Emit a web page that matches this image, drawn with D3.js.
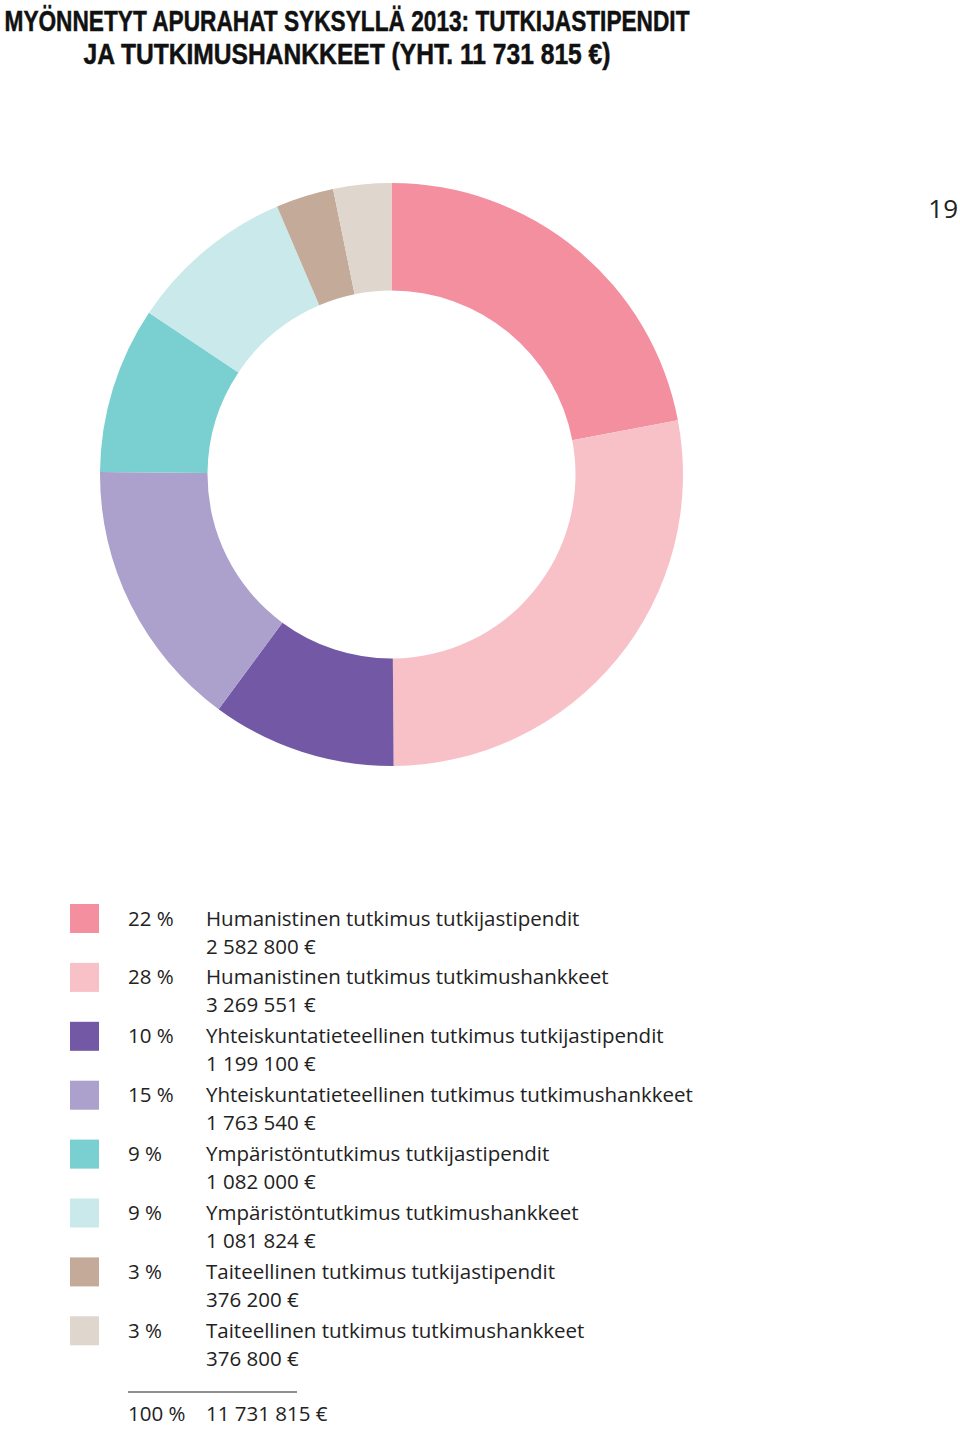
<!DOCTYPE html>
<html><head><meta charset="utf-8">
<script src="https://cdn.jsdelivr.net/npm/d3@7"></script>
<style>
html,body{margin:0;padding:0;background:#fff;}
svg{display:block;}
</style></head>
<body>
<script>
const titleLines = ["MYÖNNETYT APURAHAT SYKSYLLÄ 2013: TUTKIJASTIPENDIT", "JA TUTKIMUSHANKKEET (YHT. 11 731 815 €)"];
const categories = [
  "Humanistinen tutkimus tutkijastipendit",
  "Humanistinen tutkimus tutkimushankkeet",
  "Yhteiskuntatieteellinen tutkimus tutkijastipendit",
  "Yhteiskuntatieteellinen tutkimus tutkimushankkeet",
  "Ympäristöntutkimus tutkijastipendit",
  "Ympäristöntutkimus tutkimushankkeet",
  "Taiteellinen tutkimus tutkijastipendit",
  "Taiteellinen tutkimus tutkimushankkeet"
];
const amounts = [2582800, 3269551, 1199100, 1763540, 1082000, 1081824, 376200, 376800];
const colors = ["#F48FA0", "#F8C1C8", "#7359A5", "#ACA0CC", "#7ACFD0", "#C9E9EA", "#C4AA99", "#DFD6CD"];
const pageNumber = "19";

const W = 960, H = 1429;
const svg = d3.select("body").append("svg").attr("width", W).attr("height", H);

const total = d3.sum(amounts);
const loc = d3.formatLocale({decimal: ",", thousands: " ", grouping: [3], currency: ["", " €"]});
const fmt = loc.format(",d");

// Title
const titleFont = "'Liberation Sans Narrow', 'Liberation Sans', Arial, sans-serif";
const titleW = [685, 527];
titleLines.forEach((t, i) => {
  svg.append("text")
    .attr("x", 347).attr("y", 31 + i * 33)
    .attr("text-anchor", "middle")
    .attr("font-family", titleFont).attr("font-weight", "bold")
    .attr("font-size", 30).attr("fill", "#111")
    .attr("stroke", "#111").attr("stroke-width", 0.5)
    .attr("textLength", titleW[i]).attr("lengthAdjust", "spacingAndGlyphs")
    .text(t);
});

// Page number
svg.append("text").attr("x", 958).attr("y", 218).attr("text-anchor", "end")
  .attr("font-family", "'Open Sans', 'Liberation Sans', Arial, sans-serif").attr("font-size", 26).attr("fill", "#222")
  .text(pageNumber);

// Donut
const cx = 391.5, cy = 474.5, rOuter = 291.5, rInner = 184;
const pie = d3.pie().sort(null).value(d => d);
const arc = d3.arc().innerRadius(rInner).outerRadius(rOuter);
svg.append("g").attr("transform", `translate(${cx},${cy})`)
  .selectAll("path").data(pie(amounts)).join("path")
  .attr("d", arc).attr("fill", (d, i) => colors[i]);

// Legend
const legFont = "'Open Sans', 'Liberation Sans', Arial, sans-serif";
const probe = svg.append("text").attr("font-family", legFont).attr("font-size", 20).text(categories[3]);
const fs = 20 * 487 / probe.node().getComputedTextLength();
probe.remove();
const y0 = 925.5, rowH = 58.9;
const leg = svg.append("g").attr("font-family", legFont).attr("font-size", fs).attr("fill", "#222");
categories.forEach((c, i) => {
  const y = y0 + i * rowH;
  leg.append("rect").attr("x", 70).attr("y", y - 21.5).attr("width", 29).attr("height", 29).attr("fill", colors[i]);
  leg.append("text").attr("x", 128).attr("y", y).text(Math.round(amounts[i] / total * 100) + " %");
  leg.append("text").attr("x", 206).attr("y", y).text(c);
  leg.append("text").attr("x", 206).attr("y", y + 28).text(fmt(amounts[i]) + " €");
});
leg.append("line").attr("x1", 128).attr("x2", 297).attr("y1", 1392).attr("y2", 1392)
  .attr("stroke", "#222").attr("stroke-width", 1.2);
leg.append("text").attr("x", 128).attr("y", 1421).text("100 %");
leg.append("text").attr("x", 206).attr("y", 1421).text(fmt(total) + " €");
</script>
</body></html>
